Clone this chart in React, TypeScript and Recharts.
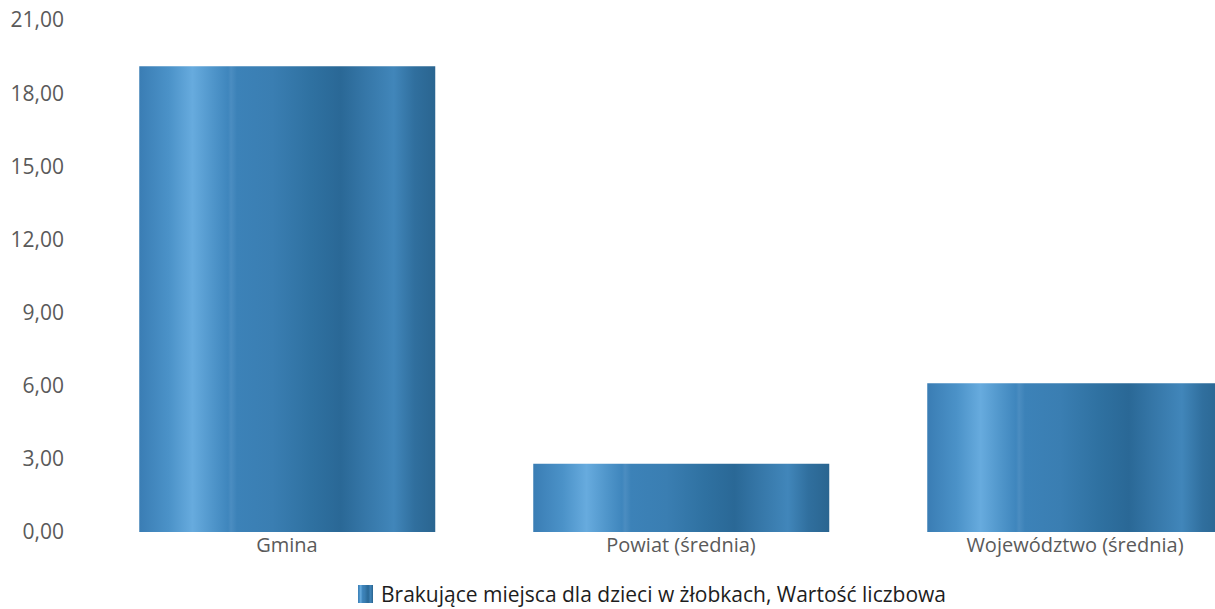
import { BarChart, Bar, XAxis, YAxis, Legend } from "recharts";

const categories = ["Gmina", "Powiat (średnia)", "Województwo (średnia)"];
const values = [19.1, 2.8, 6.1];
const yTicks = [0, 3, 6, 9, 12, 15, 18, 21];
const seriesName = "Brakujące miejsca dla dzieci w żłobkach, Wartość liczbowa";

const data = categories.map((c, i) => ({ name: c, value: values[i] }));

const fmt = (v: number) => v.toFixed(2).replace(".", ",");

const stops = [
  [0, "#3a7db4"],
  [0.1, "#4b92c8"],
  [0.18, "#67abde"],
  [0.25, "#4f95ca"],
  [0.3, "#3f86bd"],
  [0.31, "#4b8dc1"],
  [0.33, "#3c82b8"],
  [0.45, "#3a7eb2"],
  [0.58, "#2f71a1"],
  [0.68, "#2a6896"],
  [0.76, "#3576a7"],
  [0.86, "#4186ba"],
  [0.93, "#306f9e"],
  [1, "#2a6590"],
];

function LegendContent() {
  return (
    <div
      style={{
        display: "flex",
        justifyContent: "center",
        alignItems: "center",
        paddingTop: 18,
        paddingLeft: 32,
        fontFamily: "'Open Sans', sans-serif",
        fontSize: 21,
        lineHeight: "24px",
        color: "#1d1d1d",
      }}
    >
      <svg width={15} height={18} style={{ marginRight: 8 }}>
        <rect x={0} y={0} width={15} height={18} fill="url(#barGrad)" />
      </svg>
      <span>{seriesName}</span>
    </div>
  );
}

function App() {
  return (
    <div
      style={{
        position: "fixed",
        left: 0,
        top: 0,
        width: 1215,
        height: 609,
        overflow: "hidden",
        background: "#fff",
      }}
    >
      <BarChart
        width={1272}
        height={609}
        data={data}
        margin={{ top: 20, right: 0, left: 0, bottom: 0 }}
        barCategoryGap="12.5%"
      >
        <defs>
          <linearGradient id="barGrad" x1="0" y1="0" x2="1" y2="0">
            {stops.map(([o, c]) => (
              <stop key={o as number} offset={o as number} stopColor={c as string} />
            ))}
          </linearGradient>
        </defs>
        <XAxis
          dataKey="name"
          axisLine={false}
          tickLine={false}
          tickSize={0}
          tickMargin={6}
          height={32}
          tick={{ fill: "#5a5a5a", fontSize: 20, fontFamily: "'Open Sans', sans-serif" }}
        />
        <YAxis
          domain={[0, 21]}
          ticks={yTicks}
          tickFormatter={fmt}
          axisLine={false}
          tickLine={false}
          tickSize={0}
          tickMargin={26}
          width={90}
          tick={{ fill: "#5a5a5a", fontSize: 21, fontFamily: "'Open Sans', sans-serif" }}
        />
        <Legend verticalAlign="bottom" height={45} content={<LegendContent />} />
        <Bar dataKey="value" name={seriesName} fill="url(#barGrad)" isAnimationActive={false} />
      </BarChart>
    </div>
  );
}

export default App;
